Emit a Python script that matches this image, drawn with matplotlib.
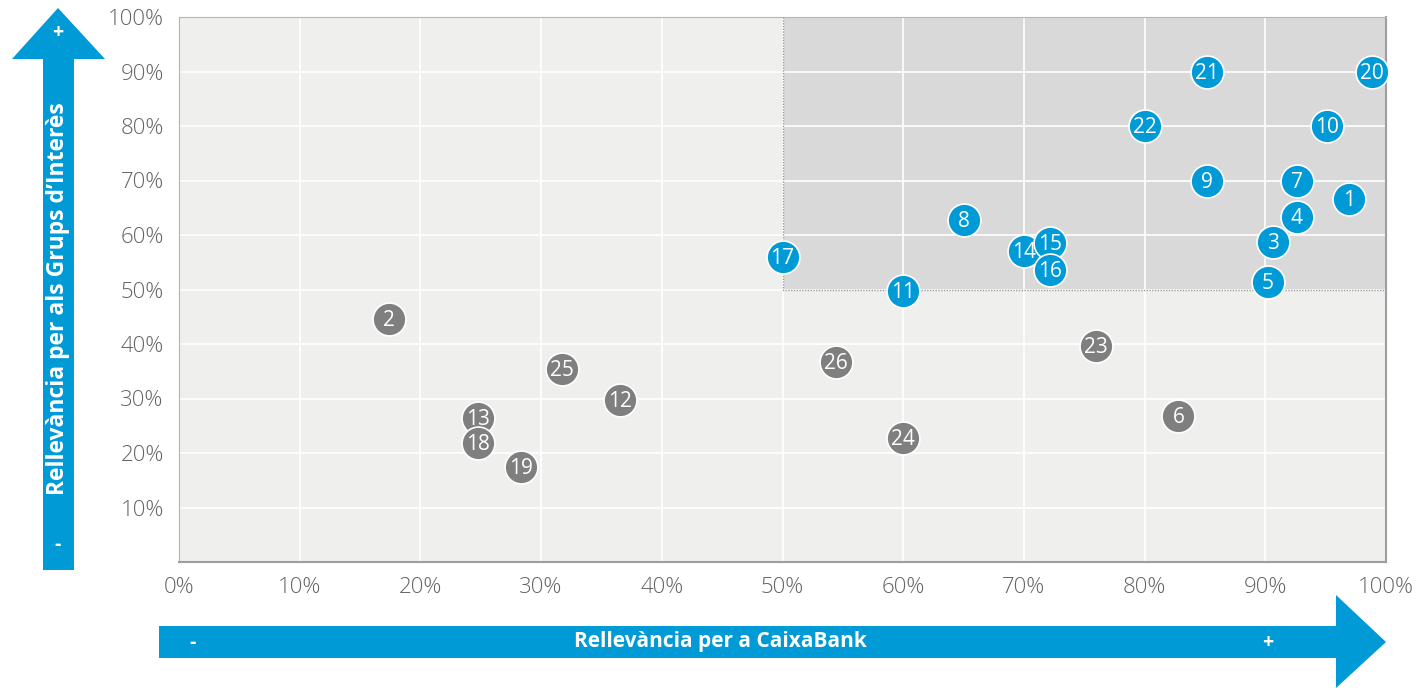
import matplotlib.pyplot as plt
from matplotlib.patches import Polygon, Rectangle

plt.rcParams['font.family'] = ['Open Sans', 'DejaVu Sans']

# data: relevance for CaixaBank (x) and for stakeholders (y), in %
ids = ["1", "2", "3", "4", "5", "6", "7", "8", "9", "10", "11", "12", "13",
       "14", "15", "16", "17", "18", "19", "20", "21", "22", "23", "24", "25", "26"]
x_vals = [96.9, 17.4, 90.6, 92.6, 90.2, 82.8, 92.6, 65.0, 85.2, 95.1, 60.0, 36.5, 24.8,
          70.0, 72.2, 72.2, 50.0, 24.8, 28.3, 98.8, 85.2, 80.0, 76.0, 60.0, 31.7, 54.4]
y_vals = [66.6, 44.6, 58.8, 63.3, 51.4, 26.8, 69.9, 62.8, 69.9, 80.0, 49.8, 29.7, 26.4,
          57.0, 58.6, 53.6, 56.0, 21.8, 17.4, 89.9, 89.9, 80.0, 39.6, 22.8, 35.4, 36.7]
material = [True, False, True, True, True, False, True, True, True, True, True, False, False,
            True, True, True, True, False, False, True, True, True, False, False, False, False]

x_ticks = [0, 10, 20, 30, 40, 50, 60, 70, 80, 90, 100]
y_ticks = [10, 20, 30, 40, 50, 60, 70, 80, 90, 100]
x_title = "Rellevància per a CaixaBank"
y_title = "Rellevància per als Grups d’Interès"

blue = "#009AD7"
grey_pt = "#7F7F7F"

W, H = 1419, 688
fig = plt.figure(figsize=(W / 100, H / 100), dpi=100)
ax = fig.add_axes([179 / W, (H - 562) / H, (1386 - 179) / W, (562 - 17) / H])
ax.set_xlim(0, 100)
ax.set_ylim(0, 100)
ax.set_facecolor("#EFEFEE")

# highlighted quadrant
ax.add_patch(Rectangle((50, 50), 50, 50, facecolor="#D9D9D9", edgecolor="none", zorder=0.5))
ax.plot([50, 50, 100], [100, 50, 50], color="#9A9A9A", lw=1, ls=(0, (1, 1)), zorder=0.6)

ax.set_xticks(x_ticks)
ax.set_yticks(y_ticks)
ax.set_xticklabels([f"{t}%" for t in x_ticks])
ax.set_yticklabels([f"{t}%" for t in y_ticks])
ax.grid(True, color="white", lw=1.2, zorder=0.7)
ax.set_axisbelow(True)
ax.tick_params(length=0, labelsize=16, labelcolor="#646464", pad=11)
for lab in ax.get_xticklabels() + ax.get_yticklabels():
    lab.set_fontweight("light")

for s in ["top", "left"]:
    ax.spines[s].set_color("#B5B5B5")
    ax.spines[s].set_linestyle((0, (1, 1)))
for s in ["right", "bottom"]:
    ax.spines[s].set_color("#9E9E9E")
    ax.spines[s].set_linewidth(1.5)

for xi, yi, lab, m in zip(x_vals, y_vals, ids, material):
    ax.scatter(xi, yi, s=560, color=blue if m else grey_pt, edgecolor="white",
               linewidth=1.2, zorder=3, clip_on=False)
    ax.text(xi, yi - 0.3, lab, color="white", fontsize=15, ha="center", va="center",
            zorder=4)

# arrows (figure pixel coords converted to fractions)
def fpoly(pts):
    return Polygon([(px / W, 1 - py / H) for px, py in pts], closed=True,
                   transform=fig.transFigure, facecolor=blue, edgecolor="none")

fig.patches.append(fpoly([(43, 570), (74, 570), (74, 59), (105, 59), (58, 8),
                          (12, 59), (43, 59)]))
fig.patches.append(fpoly([(159, 626), (1336, 626), (1336, 595), (1386, 642),
                          (1336, 688), (1336, 658), (159, 658)]))

fig.text(58 / W, 1 - 299 / H, y_title, rotation=90, color="white", fontsize=16.5,
         fontweight="bold", ha="center", va="center")
fig.text(58 / W, 1 - 33 / H, "+", color="white", fontsize=14, fontweight="bold",
         ha="center", va="center")
fig.text(58 / W, 1 - 545 / H, "-", color="white", fontsize=14, fontweight="bold",
         ha="center", va="center")
fig.text(720 / W, 1 - 641 / H, x_title, color="white", fontsize=15,
         fontweight="bold", ha="center", va="center")
fig.text(193 / W, 1 - 643 / H, "-", color="white", fontsize=14, fontweight="bold",
         ha="center", va="center")
fig.text(1268 / W, 1 - 643 / H, "+", color="white", fontsize=14, fontweight="bold",
         ha="center", va="center")

fig.savefig("out.png", dpi=100)
